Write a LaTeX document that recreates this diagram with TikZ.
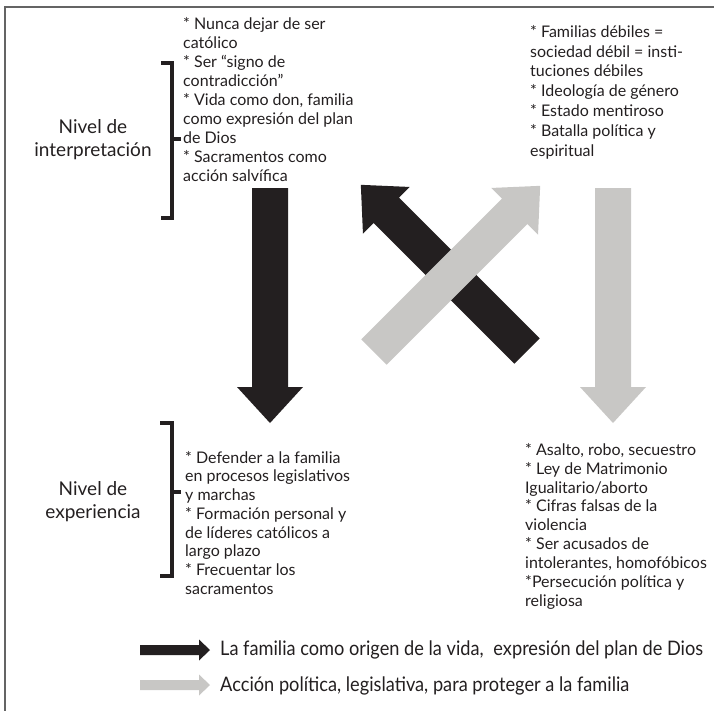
\documentclass[tikz,border=0pt]{standalone}
\usepackage{fontspec}
\setmainfont{Lato}
\newfontfamily\legfont{Lato}[FakeStretch=0.91]
\definecolor{ink}{RGB}{35,31,32}
\definecolor{lgray}{RGB}{200,199,197}
\definecolor{framegray}{RGB}{100,100,100}
\newcommand\bigarr[4]{%
  \fill[#1, shift={#2}, rotate=#3] (0,-18) -- ({#4-36},-18) -- ({#4-36},-33) -- (#4,0) -- ({#4-36},33) -- ({#4-36},18) -- (0,18) -- cycle;}
\newcommand\legarr[2]{%
  \fill[#1, shift={#2}] (0,-5) -- (59,-5) -- (59,-10.5) -- (70,0) -- (59,10.5) -- (59,5) -- (0,5) -- cycle;}
\begin{document}
\begin{tikzpicture}[x=1pt,y=-1pt,
  body/.style={anchor=north west, inner sep=0pt, align=left, text=ink},
  level/.style={align=center, inner sep=0pt, text=ink, font=\fontsize{19}{23}\selectfont},
  brk/.style={line width=3.5pt, ink, line join=miter},
  legtext/.style={anchor=west, inner sep=0pt, text=ink, font=\legfont\fontsize{20}{22}\selectfont},
]
\useasboundingbox (0,0) rectangle (714,710);
\draw[framegray, line width=1.5pt] (5,715) -- (5,7) -- (720,7);

% level labels
\node[level] (interp) at (93,140) {Nivel de\\interpretación};
\node[level] (exper) at (93,502) {Nivel de\\experiencia};

% brackets
\draw[brk] (161,63) -- (172,63) -- (172,218) -- (161,218);
\draw[brk] (172,139) -- (181,139);
\draw[brk] (160,423) -- (172,423) -- (172,576) -- (160,576);
\draw[brk] (172,492) -- (181,492);

% text blocks
\node[body, font=\fontsize{16}{19}\selectfont] (tl) at (183,17) {* Nunca dejar de ser\\católico\\* Ser “signo de\\contradicción”\\* Vida como don, familia\\como expresión del plan\\de Dios\\* Sacramentos como\\acción salvífica};
\node[body, font=\fontsize{16}{19.8}\selectfont] (tr) at (530,25) {* Familias débiles =\\sociedad débil = insti-\\tuciones débiles\\* Ideología de género\\* Estado mentiroso\\* Batalla política y\\espiritual};
\node[body, font=\fontsize{16}{18.7}\selectfont] (bl) at (185,451) {* Defender a la familia\\en procesos legislativos\\y marchas\\* Formación personal y\\de líderes católicos a\\largo plazo\\* Frecuentar los\\sacramentos};
\node[body, font=\fontsize{16}{18.9}\selectfont] (br) at (525,443) {* Asalto, robo, secuestro\\* Ley de Matrimonio\\Igualitario/aborto\\* Cifras falsas de la\\violencia\\* Ser acusados de\\intolerantes, homofóbicos\\*Persecución política y\\religiosa};

% big arrows
\bigarr{ink}{(270,188)}{-90}{235}
\bigarr{lgray}{(613,188)}{-90}{235}
\bigarr{ink}{(527,351)}{135}{235}
\bigarr{lgray}{(374,352)}{45}{235}

% legend
\legarr{ink}{(140,650)}
\legarr{lgray}{(140,685)}
\node[legtext] (leg1) at (220,650) {La familia como origen de la vida,\hspace{0.25em} expresión del plan de Dios};
\node[legtext] (leg2) at (220,686) {Acción política, legislativa, para proteger a la familia};
\end{tikzpicture}
\end{document}
